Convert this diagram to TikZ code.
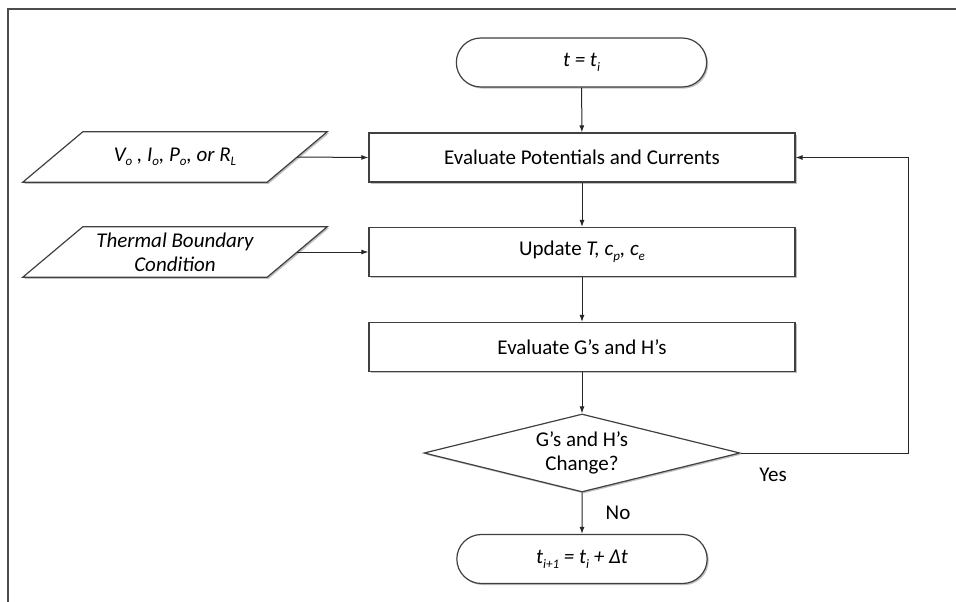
\documentclass[tikz,border=0pt]{standalone}
\usepackage{fontspec}
\setmainfont{Carlito}
\usetikzlibrary{shapes.geometric,shapes.misc,shadows,arrows.meta}
\newcommand\lsub[1]{\raisebox{-0.45ex}{\fontsize{13}{13}\selectfont #1}}
\begin{document}
\begin{tikzpicture}[x=1pt,y=-1pt,
  font=\fontsize{21}{24}\selectfont,
  shad/.style={drop shadow={shadow xshift=1.6pt,shadow yshift=-1.6pt,opacity=0.35,fill=black!70}},
  outl/.style={draw=black!75, line width=1.2pt, fill=white},
  box/.style={rectangle, outl, shad, minimum width=426pt, minimum height=49pt},
  term/.style={rounded rectangle, outl, shad, minimum width=257pt, minimum height=49pt},
  dec/.style={diamond, outl, shad, shape aspect=4.05, minimum width=316pt, minimum height=78pt, inner sep=0pt, align=center},
  iotext/.style={rectangle, minimum width=244pt, minimum height=50pt, align=center, inner sep=0pt},
  arr/.style={-{Latex[length=7pt,width=5pt]}, draw=black!85, line width=1pt},
  lbl/.style={inner sep=0pt}]
\useasboundingbox (0,0) rectangle (956,602);
\draw[draw=black!70, line width=1.4pt] (8,602) -- (8,9) -- (956,9);

\node[term] (start) at (581.5,62.5) {\itshape t = t\lsub{i}};
\node[box] (eval) at (582,157.5) {Evaluate Potentials and Currents};
\node[box] (upd) at (582,252) {Update \textit{T, c\lsub{p}, c\lsub{e}}};
\node[box] (evg) at (582,347) {Evaluate G’s and H’s};
\node[dec] (chg) at (582,453) {G’s and H’s\\Change?};
\node[term] (stop) at (582,559) {\itshape t\lsub{i+1} = t\lsub{i} + Δt};

\node[iotext] (in1) at (175,157) {};
\node[iotext] (in2) at (175,252) {};
\foreach \n in {in1,in2}{
  \draw[outl, shad] ([xshift=30pt]\n.north west) -- ([xshift=30pt]\n.north east)
    -- ([xshift=-30pt]\n.south east) -- ([xshift=-30pt]\n.south west) -- cycle;
}
\node[iotext] (t1) at (in1) {\itshape V\lsub{o} , I\lsub{o}, P\lsub{o}, or R\lsub{L}};
\node[iotext] (t2) at (in2) {\itshape Thermal Boundary\\\itshape Condition};

\coordinate (rt) at (908,0);
\draw[arr] (start) -- (eval);
\draw[arr] (eval) -- (upd);
\draw[arr] (upd) -- (evg);
\draw[arr] (evg) -- (chg);
\draw[arr] (chg) -- (stop);
\draw[arr] (in1.east) -- (eval.west);
\draw[arr] (in2.east) -- (upd.west);
\draw[arr] (chg.east) -- (chg.east -| rt) |- (eval.east);

\node[lbl] (no) at (618,513) {No};
\node[lbl] (yes) at (773,475) {Yes};
\end{tikzpicture}
\end{document}
